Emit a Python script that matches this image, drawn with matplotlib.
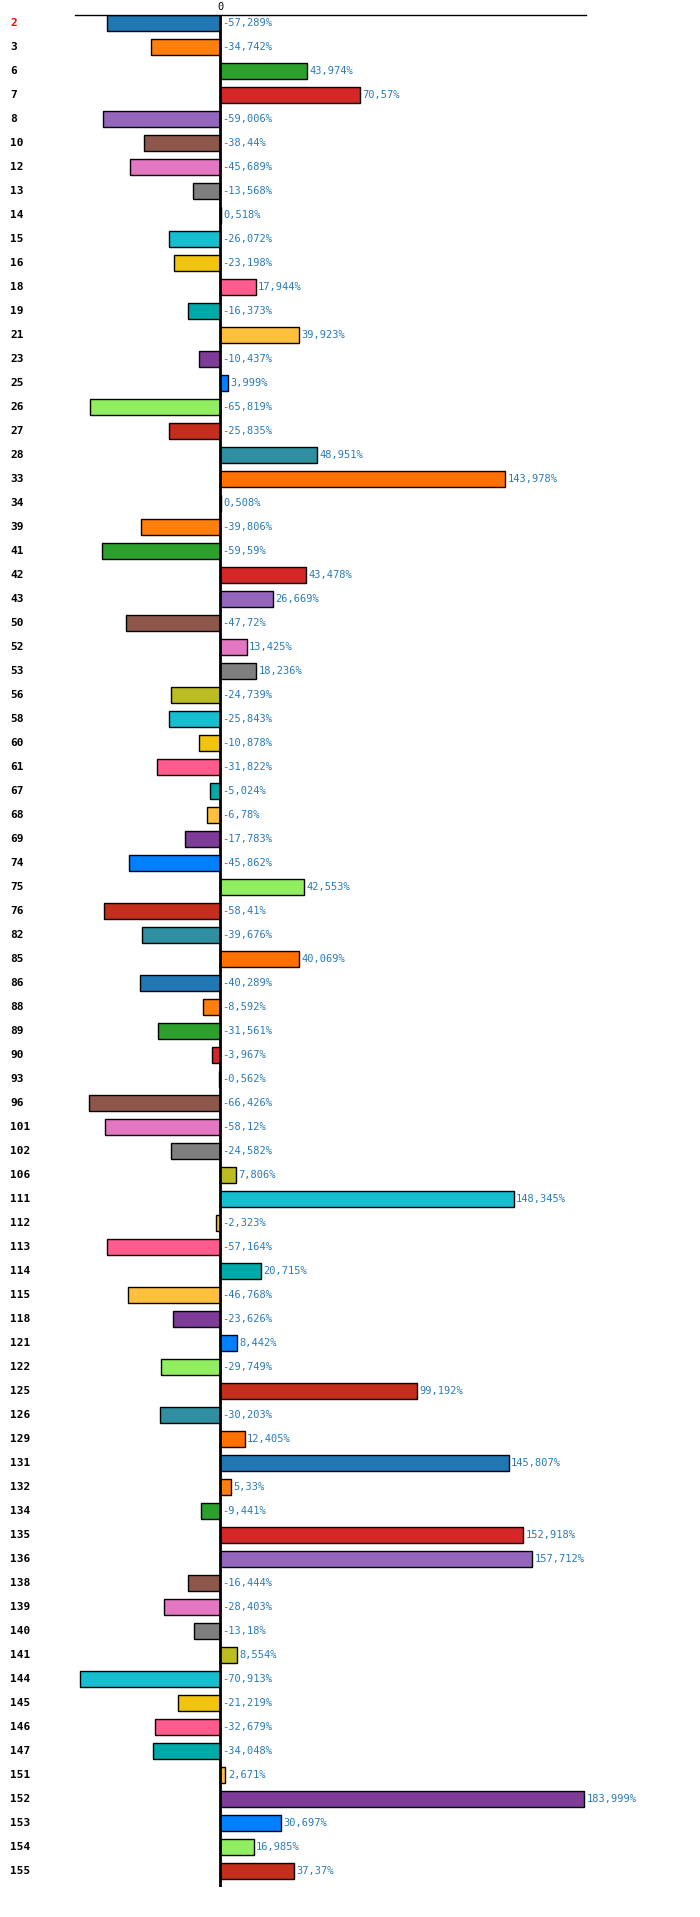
import numpy as np
import matplotlib.pyplot as plt

# Categories (ids) and percent change values
categories = ['2', '3', '6', '7', '8', '10', '12', '13', '14', '15',
              '16', '18', '19', '21', '23', '25', '26', '27', '28', '33',
              '34', '39', '41', '42', '43', '50', '52', '53', '56', '58',
              '60', '61', '67', '68', '69', '74', '75', '76', '82', '85',
              '86', '88', '89', '90', '93', '96', '101', '102', '106', '111',
              '112', '113', '114', '115', '118', '121', '122', '125', '126', '129',
              '131', '132', '134', '135', '136', '138', '139', '140', '141', '144',
              '145', '146', '147', '151', '152', '153', '154', '155']
values = [-57.289, -34.742, 43.974, 70.57, -59.006, -38.44, -45.689, -13.568, 0.518, -26.072,
          -23.198, 17.944, -16.373, 39.923, -10.437, 3.999, -65.819, -25.835, 48.951, 143.978,
          0.508, -39.806, -59.59, 43.478, 26.669, -47.72, 13.425, 18.236, -24.739, -25.843,
          -10.878, -31.822, -5.024, -6.78, -17.783, -45.862, 42.553, -58.41, -39.676, 40.069,
          -40.289, -8.592, -31.561, -3.967, -0.562, -66.426, -58.12, -24.582, 7.806, 148.345,
          -2.323, -57.164, 20.715, -46.768, -23.626, 8.442, -29.749, 99.192, -30.203, 12.405,
          145.807, 5.33, -9.441, 152.918, 157.712, -16.444, -28.403, -13.18, 8.554, -70.913,
          -21.219, -32.679, -34.048, 2.671, 183.999, 30.697, 16.985, 37.37]
# labels as shown (comma decimal)
value_labels = ['-57,289%', '-34,742%', '43,974%', '70,57%', '-59,006%', '-38,44%', '-45,689%', '-13,568%', '0,518%', '-26,072%',
                '-23,198%', '17,944%', '-16,373%', '39,923%', '-10,437%', '3,999%', '-65,819%', '-25,835%', '48,951%', '143,978%',
                '0,508%', '-39,806%', '-59,59%', '43,478%', '26,669%', '-47,72%', '13,425%', '18,236%', '-24,739%', '-25,843%',
                '-10,878%', '-31,822%', '-5,024%', '-6,78%', '-17,783%', '-45,862%', '42,553%', '-58,41%', '-39,676%', '40,069%',
                '-40,289%', '-8,592%', '-31,561%', '-3,967%', '-0,562%', '-66,426%', '-58,12%', '-24,582%', '7,806%', '148,345%',
                '-2,323%', '-57,164%', '20,715%', '-46,768%', '-23,626%', '8,442%', '-29,749%', '99,192%', '-30,203%', '12,405%',
                '145,807%', '5,33%', '-9,441%', '152,918%', '157,712%', '-16,444%', '-28,403%', '-13,18%', '8,554%', '-70,913%',
                '-21,219%', '-32,679%', '-34,048%', '2,671%', '183,999%', '30,697%', '16,985%', '37,37%']

palette = ['#1f77b4', '#ff7f0e', '#2ca02c', '#d62728', '#9467bd',
           '#8c564b', '#e377c2', '#7f7f7f', '#bcbd22', '#17becf',
           '#f1c40f', '#ff5c8d', '#00aaa8', '#fec03d', '#7d3c98',
           '#0080ff', '#90ee60', '#c32f1c', '#2e8fa0', '#ff7000']

W, H = 700, 1917
fig = plt.figure(figsize=(W / 100, H / 100), dpi=100)
ax = fig.add_axes([75 / W, 1 - 1887 / H, (586 - 75) / W, (1887 - 15) / H])

n = len(categories)
y = np.arange(n)
colors = [palette[i % len(palette)] for i in range(n)]
ax.barh(y, values, height=0.64, color=colors, edgecolor='black', linewidth=1)

ax.set_xlim(-73.3, 184.8)
ax.set_ylim(n - 0.33, -0.33)

# zero line
ax.axvline(0, color='black', linewidth=2)

for i, (v, lab) in enumerate(zip(values, value_labels)):
    xpos = max(v, 0) + 1.2
    ax.text(xpos, i, lab, va='center', ha='left', fontsize=7.5,
            family='DejaVu Sans Mono', color='#2a7ab8')

# category labels at left of figure
for i, c in enumerate(categories):
    yy = ax.transData.transform((0, i))[1]
    fig.text(10 / W, yy / H, c, va='center', ha='left', fontsize=8,
             fontweight='bold', family='DejaVu Sans Mono',
             color='red' if i == 0 else 'black')

ax.set_yticks([])
ax.set_xticks([0])
ax.xaxis.tick_top()
ax.tick_params(axis='x', length=0, pad=2, labelsize=7.5)
for lbl in ax.get_xticklabels():
    lbl.set_family('DejaVu Sans Mono')
for s in ['left', 'right', 'bottom']:
    ax.spines[s].set_visible(False)
ax.spines['top'].set_linewidth(1)

fig.savefig('out.png', dpi=100)
